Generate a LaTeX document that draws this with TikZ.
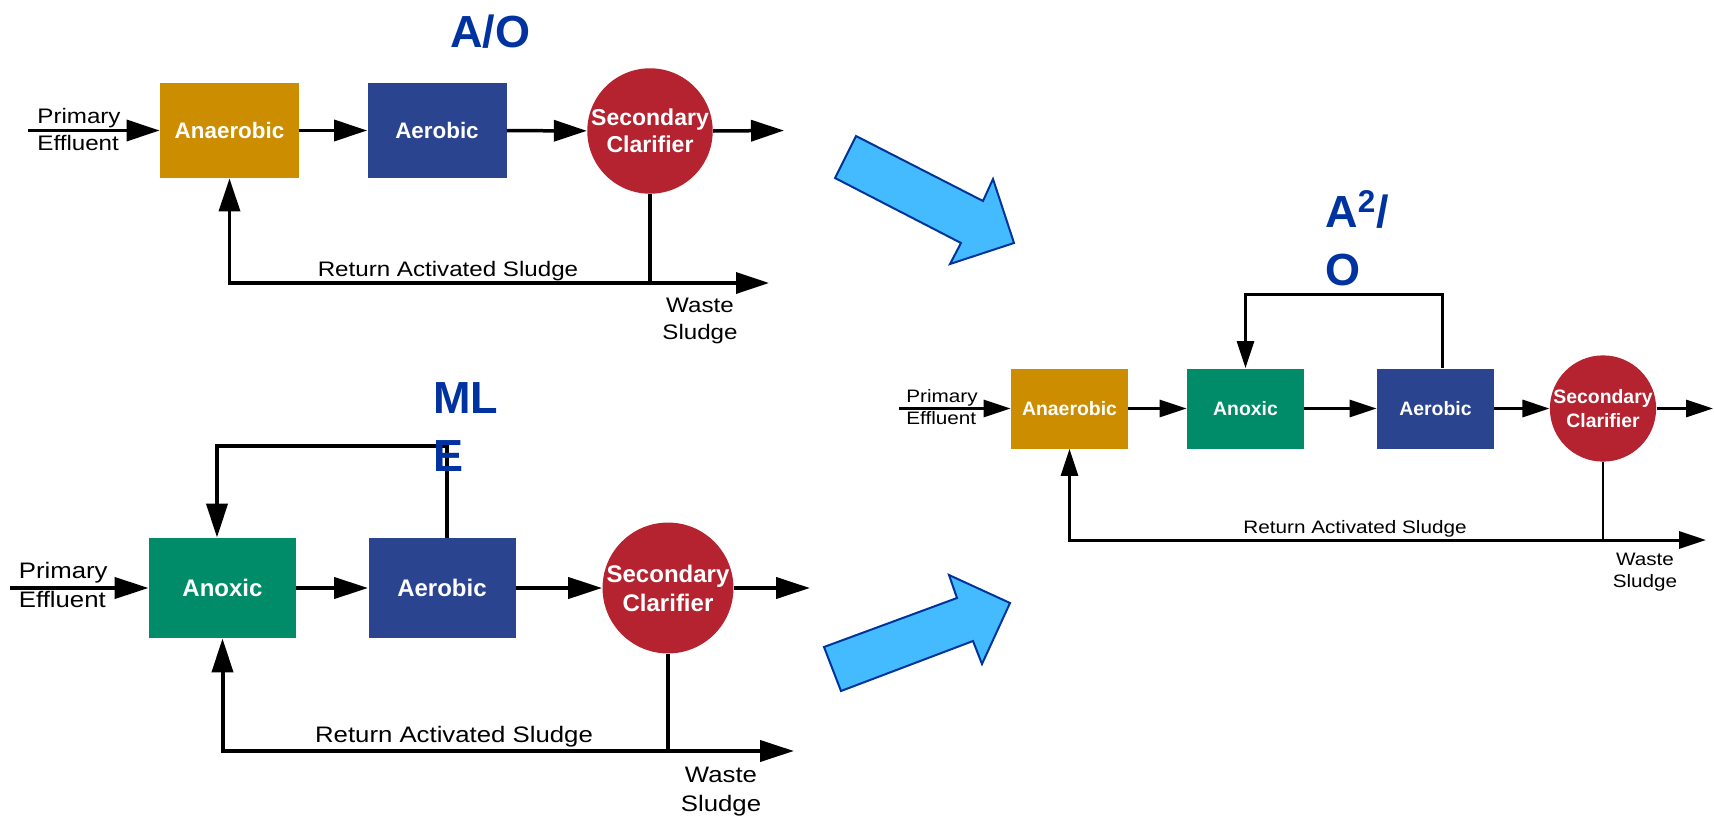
\documentclass[tikz,border=0pt]{standalone}
\usepackage{fontspec}
\setmainfont{Liberation Sans}
\newfontfamily\lblfont[FakeStretch=1.15]{Liberation Sans}
\usetikzlibrary{arrows.meta}

\definecolor{anaer}{HTML}{CC8E00}
\definecolor{aerob}{HTML}{2A4490}
\definecolor{anox}{HTML}{008C69}
\definecolor{clarred}{HTML}{B52330}
\definecolor{ttl}{HTML}{0033A0}
\definecolor{bigfill}{HTML}{45BBFF}
\definecolor{bigline}{HTML}{00349A}

\tikzset{
  % process tanks and clarifiers
  tank/.style={rectangle, inner sep=0pt, text=white, align=center},
  clarifier/.style={circle, fill=clarred, inner sep=0pt, text=white, align=center},
  title/.style={inner sep=0pt, text=ttl, align=left,
    font=\bfseries\fontsize{22.5}{29}\selectfont},
  lbl/.style={inner sep=0pt, text=black},
  % A/O scheme
  tankA/.style={tank, minimum width=69.5pt, minimum height=47.5pt,
    font=\bfseries\fontsize{11.2}{13.5}\selectfont},
  clarA/.style={clarifier, minimum size=60pt,
    font=\bfseries\fontsize{11.5}{13.5}\selectfont},
  lblA/.style={lbl, font=\lblfont\fontsize{10.5}{13.5}\selectfont},
  pipeA/.style={line width=1.6pt},
  flowA/.style={line width=1.75pt, -{Triangle[length=16.5pt,width=10.5pt]}},
  % MLE scheme
  tankM/.style={tank, minimum width=73.5pt, minimum height=50pt,
    font=\bfseries\fontsize{12}{14.5}\selectfont},
  clarM/.style={clarifier, minimum size=63pt,
    font=\bfseries\fontsize{12}{14.5}\selectfont},
  lblM/.style={lbl, font=\lblfont\fontsize{11.2}{14.5}\selectfont},
  pipeM/.style={line width=1.6pt},
  flowM/.style={line width=2pt, -{Triangle[length=17pt,width=10.5pt]}},
  % A2/O scheme
  tankB/.style={tank, minimum width=58.5pt, minimum height=40pt,
    font=\bfseries\fontsize{9.7}{12}\selectfont},
  clarB/.style={clarifier, minimum size=51pt,
    font=\bfseries\fontsize{9.7}{12}\selectfont},
  lblB/.style={lbl, font=\lblfont\fontsize{9}{11}\selectfont},
  pipeB/.style={line width=1.3pt},
  flowB/.style={line width=1.5pt, -{Triangle[length=13.5pt,width=8.5pt]}},
  % block arrows between the schemes
  bigarrow/.style={fill=bigfill, draw=bigline, line width=1pt, line join=miter},
}

\begin{document}
\begin{tikzpicture}[x=0.5pt, y=-0.5pt]
\useasboundingbox (0,0) rectangle (1714,819);

% ---------------- A/O ----------------
\node[tankA, fill=anaer] (ao1) at (229.5,130.5) {Anaerobic};
\node[tankA, fill=aerob] (ao2) at (437,130.5) {Aerobic};
\node[clarA] (ao3) at (650,131) {Secondary\\Clarifier};
\coordinate (aoin) at (28,130.5);
\coordinate (aoout) at (784,130.5);
\coordinate (aoj) at (651,283);
\coordinate (aowaste) at (769,283);

\draw[flowA] (aoin) -- (ao1.west);
\draw[flowA] (ao1) -- (ao2);
\draw[flowA] (ao2) -- (ao3);
\draw[flowA] (ao3.east) -- (aoout);
\draw[pipeA] (ao3.south) -- (ao3.south |- aoj);
\draw[flowA] (ao3.south |- aoj) -| (ao1.south);
\draw[flowA] (ao3.south |- aoj) -- (aowaste);

\node[lblA, anchor=north west, align=left] (aoPE) at (37,108) {Primary\\Effluent};
\node[lblA, anchor=base] (aoRAS) at (448,276) {Return Activated Sludge};
\node[lblA, anchor=north, align=center] (aoWS) at (700,298) {Waste\\Sludge};
\node[title, anchor=base west] (tAO) at (450,47) {A/O};

% ---------------- MLE ----------------
\node[tankM, fill=anox] (ml1) at (222.5,588) {Anoxic};
\node[tankM, fill=aerob] (ml2) at (442,588) {Aerobic};
\node[clarM] (ml3) at (668,588) {Secondary\\Clarifier};
\coordinate (mlin) at (10,588);
\coordinate (mlout) at (810,588);
\coordinate (mlj) at (669,751);
\coordinate (mlwaste) at (794,751);
\coordinate (mlfb) at (447,446);

\draw[flowM] (mlin) -- (ml1.west);
\draw[flowM] (ml1) -- (ml2);
\draw[flowM] (ml2) -- (ml3);
\draw[flowM] (ml3.east) -- (mlout);
\draw[flowM, line join=miter] ([xshift=2.5pt]ml2.north) |- (mlfb) -| ([xshift=-2.75pt]ml1.north);
\draw[pipeM] (ml3.south) -- (ml3.south |- mlj);
\draw[flowM] (ml3.south |- mlj) -| (ml1.south);
\draw[flowM] (ml3.south |- mlj) -- (mlwaste);

\node[lblM, anchor=north west, align=left] (mlPE) at (18.5,562) {Primary\\Effluent};
\node[lblM, anchor=base] (mlRAS) at (454,742) {Return Activated Sludge};
\node[lblM, anchor=north, align=center] (mlWS) at (721,767) {Waste\\Sludge};
\node[title, anchor=north west] (tMLE) at (433,382) {ML\\E};

% ---------------- A2/O ----------------
\node[tankB, fill=anaer] (a1) at (1069.5,408.5) {Anaerobic};
\node[tankB, fill=anox] (a2) at (1245.5,408.5) {Anoxic};
\node[tankB, fill=aerob] (a3) at (1435.5,408.5) {Aerobic};
\node[clarB] (a4) at (1603,408.5) {Secondary\\Clarifier};
\coordinate (ain) at (899,408.5);
\coordinate (aout) at (1713,408.5);
\coordinate (aj) at (1605,540);
\coordinate (awaste) at (1706,540);
\coordinate (afb) at (1442,294);

\draw[flowB] (ain) -- (a1.west);
\draw[flowB] (a1) -- (a2);
\draw[flowB] (a2) -- (a3);
\draw[flowB] (a3) -- (a4);
\draw[flowB] (a4.east) -- (aout);
\draw[flowB, line join=miter] ([xshift=3.25pt]a3.north) |- (afb) -| (a2.north);
\draw[pipeB] (a4.south) -- (a4.south |- aj);
\draw[flowB] (a4.south |- aj) -| (a1.south);
\draw[flowB] (a4.south |- aj) -- (awaste);

\node[lblB, anchor=north west, align=left] (aPE) at (906,389) {Primary\\Effluent};
\node[lblB, anchor=base] (aRAS) at (1355,533) {Return Activated Sludge};
\node[lblB, anchor=north, align=center] (aWS) at (1645,553) {Waste\\Sludge};
\node[title, anchor=north west] (tA2O) at (1325,190) {A\textsuperscript{2}/\\O};

% ---------------- block arrows ----------------
\draw[bigarrow] (856,136) -- (983,201) -- (993,179) -- (1014,243)
  -- (950,264) -- (961,243) -- (835,178) -- cycle;
\draw[bigarrow] (824,647) -- (957,598) -- (949,575) -- (1010,603)
  -- (982,664) -- (973,641) -- (841,691) -- cycle;

\end{tikzpicture}
\end{document}
